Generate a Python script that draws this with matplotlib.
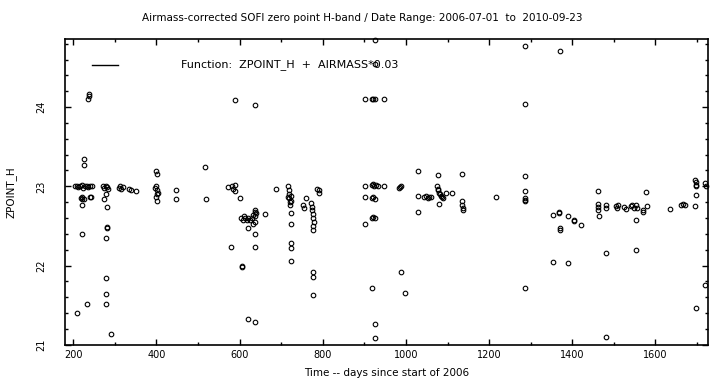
import matplotlib
matplotlib.use("Agg")
import matplotlib.pyplot as plt
from matplotlib.ticker import MultipleLocator

# Days since start of 2006
days = [
    # ~200-245 cluster
    210, 232, 221, 221, 221, 226, 226, 236, 237, 239,
    204, 208, 212, 216, 220, 224, 228, 232, 236, 240, 244,
    218, 222, 226, 240, 243,
    # ~270-292
    272, 275, 278, 281, 284, 274, 278, 281, 282, 282, 279, 279, 279, 279, 292,
    # 312-352
    310, 313, 316, 320, 335, 338, 352,
    # ~400
    396, 399, 402, 404, 400, 401, 399, 401, 402,
    446, 446, 518, 520,
    # ~570-600
    572, 582, 585, 588, 590, 601, 588, 580, 606, 607,
    # ~604-640
    604, 608, 611, 614, 617, 620, 626, 630, 633, 636, 639, 632, 636, 638, 638,
    620, 638, 638, 638, 620, 638, 662, 688,
    # ~716-740
    716, 718, 719, 720, 721, 722, 723, 724, 716, 723, 723, 723, 723, 723,
    752, 754, 760,
    # ~770-790
    772, 774, 775, 776, 777, 778, 776, 776, 776, 776, 776, 786, 790, 792,
    # ~900-952
    902, 918, 922, 926, 948, 926, 926,
    902, 918, 921, 924, 928, 932, 948, 902, 918, 922, 926,
    918, 922, 926, 902, 918, 926, 926,
    # ~986-1000
    984, 986, 988, 988, 998,
    # ~1030-1060
    1030, 1030, 1030, 1044, 1048, 1052, 1056, 1060,
    # ~1074-1110
    1074, 1076, 1078, 1080, 1082, 1084, 1086, 1088, 1076, 1080, 1096, 1110,
    1136, 1136, 1136, 1137, 1138,
    1217,
    # ~1286
    1286, 1286, 1286, 1286, 1286, 1286, 1286, 1287,
    1370,
    # ~1350-1425
    1354, 1354, 1367, 1369, 1370, 1370, 1390, 1390, 1404, 1404, 1422,
    # ~1460-1580
    1462, 1461, 1462, 1463, 1464, 1482, 1482, 1480, 1482,
    1504, 1508, 1510, 1524, 1528,
    1540, 1544, 1548, 1552, 1556, 1554, 1554, 1570, 1571, 1578, 1580,
    1636, 1662, 1666, 1670, 1694,
    1696, 1697, 1698, 1698, 1698, 1698,
    1720, 1721, 1720,
]
zpoint = [
    21.40, 21.52, 22.40, 22.77, 22.84, 23.27, 23.35, 24.10, 24.14, 24.16,
    23.00, 23.01, 22.99, 23.00, 23.02, 22.98, 23.00, 23.01, 22.99, 23.00, 23.00,
    22.85, 22.87, 22.84, 22.86, 22.86,
    23.00, 22.98, 23.01, 22.99, 22.97, 22.84, 22.90, 22.74, 22.47, 22.49, 22.35, 21.84, 21.64, 21.52, 21.13,
    22.98, 23.00, 22.96, 22.99, 22.97, 22.95, 22.94,
    22.98, 23.00, 22.95, 22.92, 23.19, 23.15, 22.87, 22.81, 22.90,
    22.95, 22.84, 23.25, 22.84,
    22.99, 23.00, 22.96, 23.02, 22.94, 22.85, 24.09, 22.23, 22.00, 21.98,
    22.60, 22.58, 22.62, 22.60, 22.57, 22.60, 22.57, 22.60, 22.64, 22.68, 22.66, 22.52, 22.55, 22.40, 22.23,
    22.47, 24.03, 22.70, 22.62, 21.32, 21.29, 22.65, 22.97,
    23.00, 22.95, 22.90, 22.85, 22.80, 22.76, 22.82, 22.88, 22.86, 22.66, 22.52, 22.28, 22.22, 22.06,
    22.77, 22.73, 22.85,
    22.79, 22.74, 22.70, 22.65, 22.60, 22.55, 22.50, 22.45, 21.92, 21.86, 21.63, 22.97, 22.92, 22.95,
    24.10, 24.10, 24.10, 24.10, 24.10, 24.85, 24.55,
    23.00, 23.02, 23.03, 23.01, 23.02, 23.00, 23.00, 22.87, 22.85, 22.86, 22.84,
    22.60, 22.61, 22.60, 22.52, 21.71, 21.26, 21.09,
    22.98, 22.99, 23.00, 21.92, 21.65,
    23.19, 22.88, 22.68, 22.86, 22.88, 22.85, 22.87, 22.86,
    23.00, 22.97, 22.95, 22.92, 22.90, 22.88, 22.86, 22.85, 23.14, 22.78, 22.92, 22.92,
    23.16, 22.81, 22.77, 22.73, 22.70,
    22.87,
    24.77, 24.04, 23.13, 22.94, 22.83, 22.81, 21.71, 22.85,
    24.71,
    22.64, 22.04, 22.68, 22.66, 22.48, 22.45, 22.63, 22.03, 22.58, 22.56, 22.51,
    22.94, 22.78, 22.74, 22.70, 22.63, 22.77, 22.72, 22.16, 21.10,
    22.75, 22.73, 22.77, 22.74, 22.71,
    22.75, 22.77, 22.73, 22.76, 22.72, 22.57, 22.19, 22.70, 22.67, 22.93, 22.75,
    22.71, 22.77, 22.78, 22.77, 22.75,
    23.08, 23.05, 23.02, 23.00, 22.89, 21.46,
    23.04, 23.00, 21.76,
]

title = "Airmass-corrected SOFI zero point H-band / Date Range: 2006-07-01  to  2010-09-23"
legend_text = "Function:  ZPOINT_H  +  AIRMASS*0.03"
xlabel = "Time -- days since start of 2006"
ylabel = "ZPOINT_H"

plt.rcParams['font.family'] = ['DejaVu Sans']
fig = plt.figure(figsize=(7.24, 3.84), dpi=100)
ax = fig.add_axes([0.0902, 0.1023, 0.8881, 0.7961])

ax.plot(days, zpoint, linestyle='none', marker='o', markersize=3.3,
        markerfacecolor='none', markeredgecolor='black', markeredgewidth=0.8,
        clip_on=False)

ax.set_xlim(181, 1727)
ax.set_ylim(21, 24.86)
ax.xaxis.set_major_locator(MultipleLocator(200))
ax.xaxis.set_minor_locator(MultipleLocator(100))
ax.yaxis.set_major_locator(MultipleLocator(1))
ax.yaxis.set_minor_locator(MultipleLocator(0.2))
ax.tick_params(which='both', direction='in', top=True, right=True,
               labelsize=7, width=1.0, color='black')
ax.tick_params(which='major', length=4)
ax.tick_params(which='minor', length=2.5)
ax.tick_params(axis='y', which='major', pad=14)
for lbl in ax.get_yticklabels():
    lbl.set_rotation(90)
    lbl.set_va('center')
for s in ax.spines.values():
    s.set_linewidth(1.2)

ax.set_xlabel(xlabel, fontsize=7.5, labelpad=6)
ax.set_ylabel(ylabel, fontsize=7.5, labelpad=14)
fig.text(0.5, 0.953, title, ha='center', va='center', fontsize=7.5)

# legend-like annotation
ax.plot([0.041, 0.0825], [0.915, 0.915], transform=ax.transAxes, color='black', lw=1.0)
ax.text(0.1797, 0.915, legend_text, transform=ax.transAxes, fontsize=8, va='center', ha='left')

fig.savefig("out.png", dpi=100)
